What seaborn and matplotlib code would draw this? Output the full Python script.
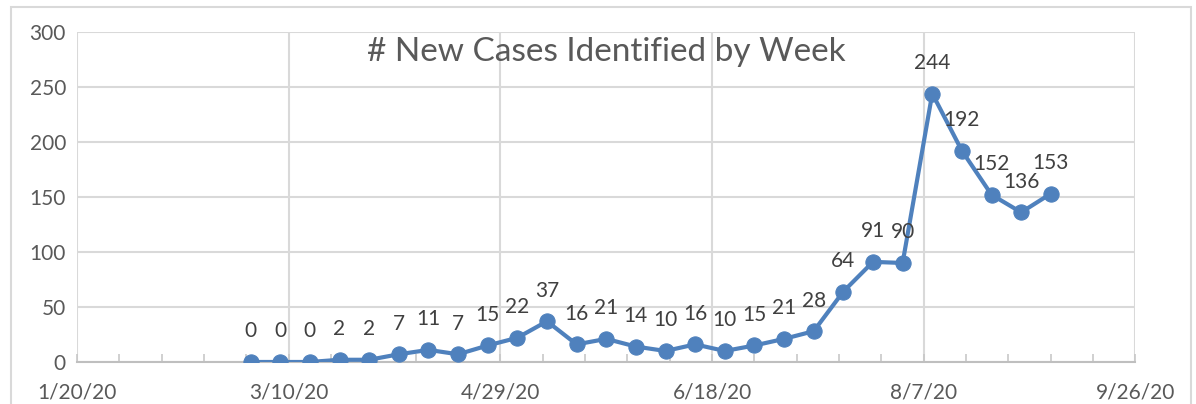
import pandas as pd
import matplotlib
matplotlib.use('Agg')
import matplotlib.pyplot as plt
from matplotlib.patches import Rectangle
import seaborn as sns

# ===== Data =====
WEEKS = ['2020-03-01', '2020-03-08', '2020-03-15', '2020-03-22', '2020-03-29',
         '2020-04-05', '2020-04-12', '2020-04-19', '2020-04-26', '2020-05-03',
         '2020-05-10', '2020-05-17', '2020-05-24', '2020-05-31', '2020-06-07',
         '2020-06-14', '2020-06-21', '2020-06-28', '2020-07-05', '2020-07-12',
         '2020-07-19', '2020-07-26', '2020-08-02', '2020-08-09', '2020-08-16',
         '2020-08-23', '2020-08-30', '2020-09-06']
NEW_CASES = [0, 0, 0, 2, 2, 7, 11, 7, 15, 22, 37, 16, 21, 14, 10, 16, 10, 15,
             21, 28, 64, 91, 90, 244, 192, 152, 136, 153]
X_TICKS = ['2020-01-20', '2020-03-10', '2020-04-29', '2020-06-18',
           '2020-08-07', '2020-09-26']
Y_TICKS = [0, 50, 100, 150, 200, 250, 300]
TITLE = '# New Cases Identified by Week'

BLUE = '#4f81bd'
GRID = '#d9d9d9'
TEXT = '#595959'

sns.set_style('white')
plt.rcParams['font.family'] = ['Lato', 'DejaVu Sans']

df = pd.DataFrame({'week': pd.to_datetime(WEEKS), 'cases': NEW_CASES})
xticks = pd.to_datetime(X_TICKS)

fig = plt.figure(figsize=(11.96, 4.04), dpi=100)
ax = fig.add_axes([0.0644, 0.104, 0.885, 0.817])

# outer chart border
fig.patches.append(Rectangle((11 / 1196, -0.1), 1180 / 1196, 1.1 - 7 / 404,
                             transform=fig.transFigure, fill=False,
                             edgecolor=GRID, linewidth=1.5))

sns.lineplot(data=df, x='week', y='cases', ax=ax, color=BLUE, linewidth=3,
             marker='o', markersize=11, markeredgecolor=BLUE, zorder=3)

for w, v in zip(df['week'], df['cases']):
    ax.annotate(str(v), (w, v), xytext=(0, 22), textcoords='offset points',
                ha='center', va='center', fontsize=15, color='#404040')

ax.set_xlim(xticks[0], xticks[-1])
ax.set_ylim(0, 300)
ax.set_xticks(xticks)
ax.set_xticklabels([f'{d.month}/{d.day}/{d.strftime("%y")}' for d in xticks])
ax.set_xticks(pd.date_range(xticks[0], xticks[-1], freq='10D'), minor=True)
ax.set_yticks(Y_TICKS)

ax.grid(True, which='major', color=GRID, linewidth=1.5)
ax.tick_params(axis='x', which='both', bottom=True, direction='in', length=6,
               color='#c8c8c8', width=1.2)
ax.tick_params(axis='x', which='major', labelsize=15, labelcolor=TEXT, pad=15)
ax.tick_params(axis='y', length=0, labelsize=15, labelcolor=TEXT, pad=8)
for side in ['top', 'left', 'right']:
    ax.spines[side].set_visible(False)
ax.spines['bottom'].set_color('#bfbfbf')
ax.spines['bottom'].set_linewidth(1.5)
ax.set_xlabel('')
ax.set_ylabel('')

ax.text(0.5, 0.938, TITLE, transform=ax.transAxes, ha='center', va='center',
        fontsize=24, color=TEXT, zorder=4)

fig.savefig('out.png', dpi=100)
